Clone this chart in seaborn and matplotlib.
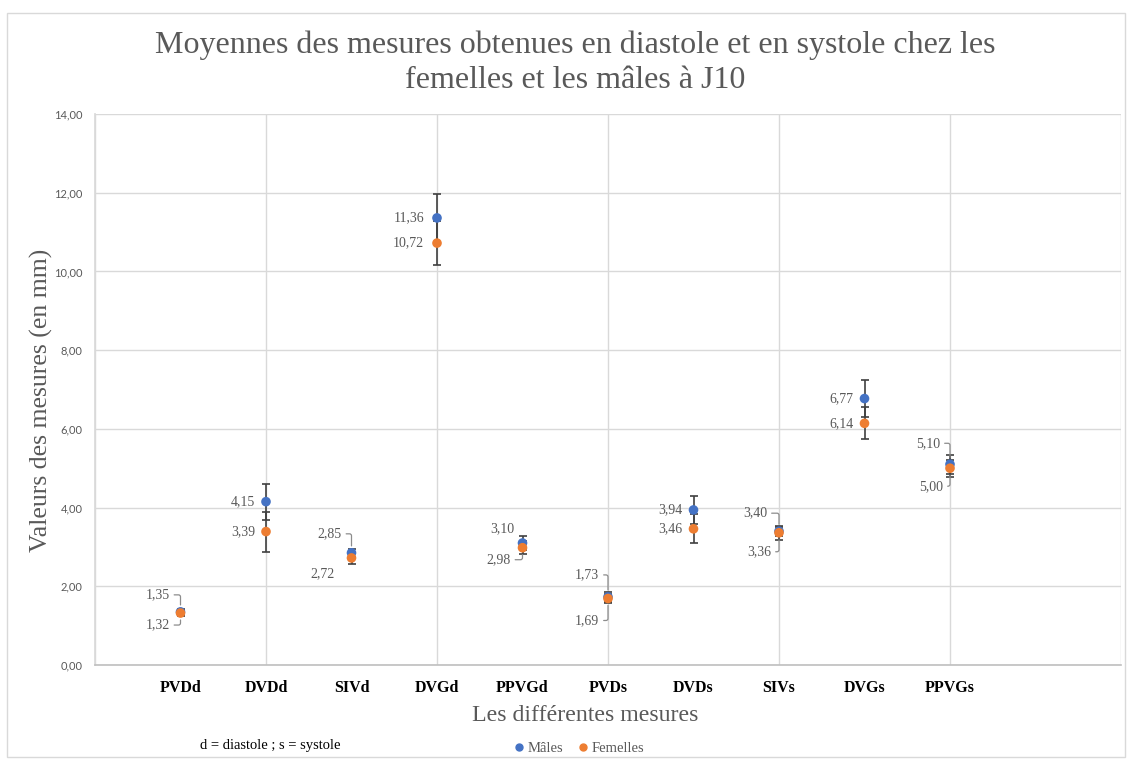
import matplotlib
matplotlib.use("Agg")
import matplotlib.pyplot as plt
from matplotlib.patches import Rectangle
from matplotlib.ticker import MultipleLocator, FixedLocator, FuncFormatter, NullFormatter
import numpy as np
import pandas as pd
import seaborn as sns

# --- data -------------------------------------------------------------
mesures = ["PVDd", "DVDd", "SIVd", "DVGd", "PPVGd",
           "PVDs", "DVDs", "SIVs", "DVGs", "PPVGs"]
males = [1.35, 4.15, 2.85, 11.36, 3.10, 1.73, 3.94, 3.40, 6.77, 5.10]
femelles = [1.32, 3.39, 2.72, 10.72, 2.98, 1.69, 3.46, 3.36, 6.14, 5.00]
err_males = [0.07, 0.46, 0.11, 0.60, 0.19, 0.12, 0.36, 0.11, 0.46, 0.24]
err_femelles = [0.07, 0.51, 0.15, 0.55, 0.16, 0.12, 0.37, 0.18, 0.41, 0.22]

position = np.arange(1, len(mesures) + 1)
df = pd.DataFrame({
    "x": np.concatenate([position, position]),
    "valeur": males + femelles,
    "erreur": err_males + err_femelles,
    "sexe": ["Mâles"] * len(mesures) + ["Femelles"] * len(mesures),
})

BLUE = "#4472C4"
ORANGE = "#ED7D31"
GREY_TXT = "#595959"
SERIF = "Liberation Serif"

sns.set_theme(style="white")
plt.rcParams["font.family"] = ["Liberation Serif", "DejaVu Sans"]

fig = plt.figure(figsize=(11.30, 7.63), dpi=100)
ax = fig.add_axes([95 / 1130, 1 - 665 / 763, (1121 - 95) / 1130, (665 - 114) / 763])

# error bars under the markers
for sexe in ("Mâles", "Femelles"):
    sub = df[df["sexe"] == sexe]
    ax.errorbar(sub["x"], sub["valeur"], yerr=sub["erreur"], fmt="none",
                ecolor="#404040", elinewidth=1.2, capsize=3.2, capthick=1.2,
                zorder=2)

sns.scatterplot(data=df, x="x", y="valeur", hue="sexe",
                palette={"Mâles": BLUE, "Femelles": ORANGE},
                s=48, edgecolor="none", linewidth=0, ax=ax, zorder=3,
                legend=False)

# axes ranges and grid: category names on major ticks, grid on minor ticks
ax.set_xlim(0, 12)
ax.set_ylim(0, 14)
ax.xaxis.remove_overlapping_locs = False
ax.xaxis.set_major_locator(FixedLocator(position))
ax.set_xticklabels(mesures)
ax.xaxis.set_minor_locator(MultipleLocator(2))
ax.xaxis.set_minor_formatter(NullFormatter())
ax.yaxis.set_major_locator(MultipleLocator(2))
ax.yaxis.set_major_formatter(FuncFormatter(lambda v, p: f"{v:.2f}".replace(".", ",")))

ax.grid(False)
ax.grid(True, axis="x", which="minor", color="#D9D9D9", linewidth=1.0)
ax.grid(True, axis="y", which="major", color="#D9D9D9", linewidth=1.0)
ax.set_axisbelow(True)
for side in ("top", "right"):
    ax.spines[side].set_visible(False)
ax.spines["left"].set_color("#D9D9D9")
ax.spines["bottom"].set_color("#BFBFBF")
ax.spines["bottom"].set_linewidth(1.2)

ax.tick_params(axis="x", which="both", length=0)
ax.tick_params(axis="x", which="major", pad=11, labelsize=11.5, labelcolor="black")
for lbl in ax.get_xticklabels():
    lbl.set_fontweight("bold")
    lbl.set_fontfamily(SERIF)
ax.tick_params(axis="y", length=0, pad=9, labelsize=8, labelcolor=GREY_TXT)
for lbl in ax.get_yticklabels():
    lbl.set_fontfamily("Lato")

ax.set_xlabel("Les différentes mesures", fontsize=17.2, color=GREY_TXT,
              fontfamily=SERIF)
ax.xaxis.set_label_coords((585 - 95) / 1026, (665 - 705) / 551)
ax.set_ylabel("Valeurs des mesures (en mm)", fontsize=18.5, color=GREY_TXT,
              fontfamily=SERIF)
ax.yaxis.set_label_coords((53 - 95) / 1026, (665 - 400) / 551)

fig.text(575 / 1130, 1 - 63 / 763,
         "Moyennes des mesures obtenues en diastole et en systole chez les\n"
         "femelles et les mâles à J10",
         ha="center", va="center", fontsize=23, color=GREY_TXT,
         fontfamily=SERIF, linespacing=1.25)

# data labels: (dx, dy) offsets in pixels, leader line flag
layout_m = [(-11, 17, True), (-11, 0, False), (-10, 19, True), (-13, 0, False),
            (-8, 14, False), (-9, 22, True), (-11, 0, False), (-12, 18, True),
            (-11, 0, False), (-10, 21, True)]
layout_f = [(-11, -12, True), (-11, 0, False), (-17, -16, False), (-13, 0, False),
            (-12, -12, True), (-9, -22, True), (-11, 0, False), (-8, -19, True),
            (-11, 0, False), (-7, -18, True)]
px = 0.72
for vals, lay in ((males, layout_m), (femelles, layout_f)):
    for xi, v, (dx, dy, lead) in zip(position, vals, lay):
        kw = {}
        if lead:
            kw["arrowprops"] = dict(arrowstyle="-", color="#8C8C8C", lw=0.9,
                                    shrinkA=1, shrinkB=5, relpos=(1.0, 0.5),
                                    connectionstyle="angle,angleA=0,angleB=90,rad=2")
        ax.annotate(f"{v:.2f}".replace(".", ","), xy=(xi, v),
                    xytext=(dx * px, dy * px), textcoords="offset points",
                    ha="right", va="center", fontsize=10, color=GREY_TXT,
                    fontfamily=SERIF, zorder=4, **kw)

# legend
handles = [plt.Line2D([], [], marker="o", linestyle="none", markersize=5,
                      markerfacecolor=c, markeredgecolor=c) for c in (BLUE, ORANGE)]
fig.legend(handles, ["Mâles", "Femelles"], loc="center", ncol=2,
           bbox_to_anchor=(578 / 1130, 1 - 748 / 763), frameon=False,
           handletextpad=0.1, columnspacing=0.8, handlelength=1.0,
           prop={"family": SERIF, "size": 10.5}, labelcolor=GREY_TXT)

fig.text(200 / 1130, 1 - 745 / 763, "d = diastole ; s = systole", ha="left",
         va="center", fontsize=10.5, color="black", fontfamily=SERIF)

# chart frame
fig.patches.append(Rectangle((7 / 1130, 1 - 757 / 763), (1125 - 7) / 1130,
                             (757 - 13) / 763, transform=fig.transFigure,
                             fill=False, edgecolor="#D9D9D9", linewidth=1.0))

fig.savefig("out.png", dpi=100)
